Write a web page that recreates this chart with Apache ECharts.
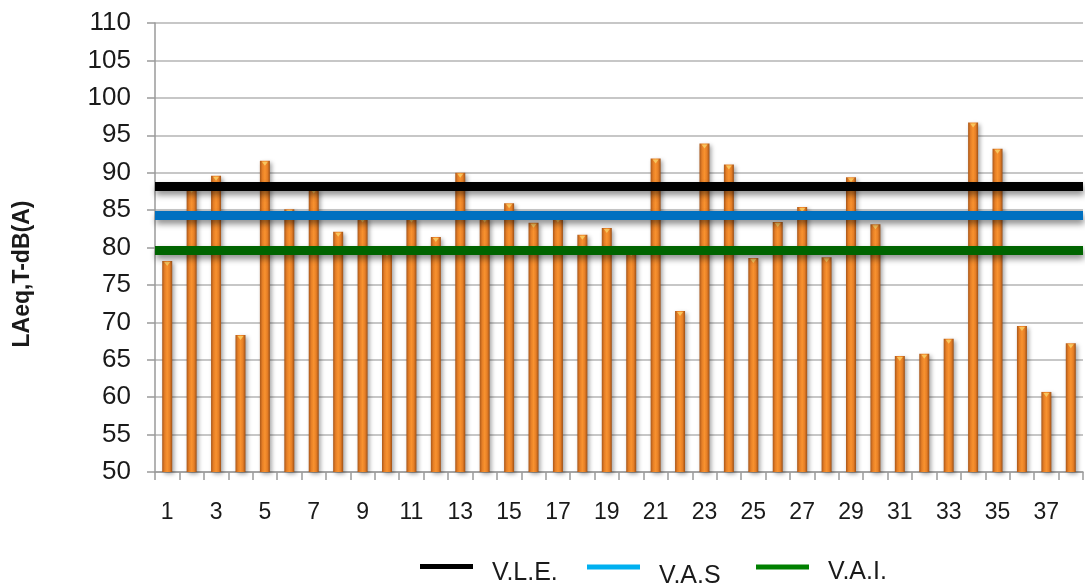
<!DOCTYPE html>
<html>
<head>
<meta charset="utf-8">
<script src="https://cdn.jsdelivr.net/npm/echarts@6/dist/echarts.min.js"></script>
<style>
  html, body { margin: 0; padding: 0; background: #ffffff; }
  #chart { width: 1085px; height: 587px; }
</style>
</head>
<body>
<div id="chart"></div>
<script>
// Measurement points 1..38
const points = Array.from({ length: 38 }, (_, i) => String(i + 1));

// LAeq,T in dB(A) at each point
const laeq = [
  78.2, 88.0, 89.6, 68.3, 91.6, 85.1, 87.9, 82.1, 84.0, 79.5,
  84.0, 81.4, 90.0, 84.0, 85.9, 83.3, 84.0, 81.7, 82.6, 79.5,
  91.9, 71.5, 93.9, 91.1, 78.6, 83.4, 85.4, 78.7, 89.4, 83.1,
  65.5, 65.8, 67.8, 96.7, 93.2, 69.5, 60.7, 67.2
];

// Reference levels
const limitNames = ['V.L.E.', 'V.A.S', 'V.A.I.'];
const limitValues = [88.2, 84.3, 79.6];
const limitLineColors = ['#000000', '#0070C0', '#006400'];
const limitLegendColors = ['#000000', '#00B0F0', '#008000'];

// Y-axis ticks
const yTicks = [50, 55, 60, 65, 70, 75, 80, 85, 90, 95, 100, 105, 110];

const chart = echarts.init(document.getElementById('chart'), null, { renderer: 'canvas' });

const barGradient = new echarts.graphic.LinearGradient(0, 0, 1, 0, [
  { offset: 0, color: '#A9571A' },
  { offset: 0.25, color: '#E67F26' },
  { offset: 0.5, color: '#F8922F' },
  { offset: 0.75, color: '#E67F26' },
  { offset: 1, color: '#9E5016' }
]);

// legend placement: one legend block per reference level.
// The icon is a thin bar at the top of a taller box, so the label sits lower than the bar.
const legendLefts = [420, 587, 756];
const legendTops = [560.5, 563.5, 559.5];
const legendBoxHeights = [18, 23, 15];

function legendIcon(h) {
  return 'path://M0,0 L53,0 L53,5 L0,5 Z M0,' + h + ' L0.001,' + h + ' L0,' + (h - 0.001) + ' Z';
}

const series = [
  {
    name: 'LAeq',
    type: 'bar',
    data: laeq,
    barWidth: 10,
    z: 2,
    itemStyle: {
      color: barGradient,
      shadowColor: 'rgba(0,0,0,0.35)',
      shadowBlur: 4,
      shadowOffsetX: 2,
      shadowOffsetY: 2
    }
  },
  {
    // small light cap at the top of each bar
    name: 'cap',
    type: 'scatter',
    data: laeq,
    symbol: 'path://M0,0 L10,0 L5,6 Z',
    symbolSize: [6, 4],
    symbolOffset: [0, 3],
    z: 3,
    silent: true,
    itemStyle: { color: '#F9D36A' }
  }
];

limitNames.forEach((name, i) => {
  series.push({
    name: name,
    type: 'line',
    data: [],
    z: 5,
    itemStyle: { color: limitLegendColors[i] },
    markLine: {
      silent: true,
      symbol: 'none',
      label: { show: false },
      lineStyle: {
        color: limitLineColors[i],
        type: 'solid',
        width: 9,
        shadowColor: 'rgba(0,0,0,0.45)',
        shadowBlur: 6,
        shadowOffsetX: 1,
        shadowOffsetY: 4
      },
      data: [{ yAxis: limitValues[i] }]
    }
  });
});

const legends = limitNames.map((name, i) => ({
  left: legendLefts[i],
  top: legendTops[i],
  padding: 0,
  icon: legendIcon(legendBoxHeights[i]),
  symbolKeepAspect: false,
  itemWidth: 53,
  itemHeight: legendBoxHeights[i],
  itemGap: 0,
  selectedMode: false,
  textStyle: {
    fontFamily: 'Liberation Sans, Arial, sans-serif',
    fontSize: 25,
    color: '#1a1a1a',
    padding: [0, 0, 0, 14]
  },
  data: [{ name: name, itemStyle: { color: limitLegendColors[i] } }]
}));

chart.setOption({
  animation: false,
  backgroundColor: '#ffffff',
  grid: { left: 155, right: 2, top: 23, bottom: 115, containLabel: false },
  legend: legends,
  graphic: [
    {
      // vertical axis title
      type: 'text',
      x: 23,
      y: 274,
      rotation: Math.PI / 2,
      style: {
        text: 'LAeq,T-dB(A)',
        fontFamily: 'Liberation Sans, Arial, sans-serif',
        fontWeight: 'bold',
        fontSize: 23,
        fill: '#1a1a1a',
        align: 'center',
        verticalAlign: 'middle'
      }
    }
  ],
  xAxis: {
    type: 'category',
    data: points,
    boundaryGap: true,
    axisLine: { lineStyle: { color: '#9a9a9a', width: 1.5 } },
    axisTick: { show: true, interval: 0, length: 8, lineStyle: { color: '#9a9a9a', width: 1.5 } },
    axisLabel: {
      interval: 1,
      margin: 29,
      fontFamily: 'Liberation Sans Narrow, Liberation Sans, Arial, sans-serif',
      fontSize: 23,
      color: '#1a1a1a'
    },
    splitLine: { show: false }
  },
  yAxis: {
    type: 'value',
    min: yTicks[0],
    max: yTicks[yTicks.length - 1],
    interval: yTicks[1] - yTicks[0],
    axisLine: { show: true, lineStyle: { color: '#9a9a9a', width: 1.5 } },
    axisTick: { show: true, inside: false, length: 8, lineStyle: { color: '#9a9a9a', width: 1.5 } },
    axisLabel: {
      margin: 24,
      fontFamily: 'Liberation Sans, Arial, sans-serif',
      fontSize: 26,
      color: '#1a1a1a'
    },
    splitLine: { show: true, lineStyle: { color: '#b5b5b5', width: 1.5 } }
  },
  series: series
});
</script>
</body>
</html>
